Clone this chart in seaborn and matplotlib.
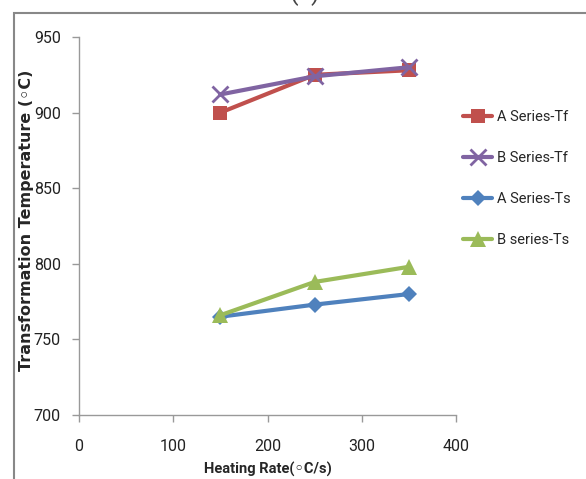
import matplotlib
matplotlib.use("Agg")
import matplotlib.pyplot as plt
from matplotlib import font_manager
from matplotlib.patches import Rectangle
import seaborn as sns
import pandas as pd

# Heating rates (°C/s) and measured transformation temperatures (°C)
heating_rate = [150, 250, 350]
a_series_tf = [900, 925, 928]
b_series_tf = [912, 924, 930]
a_series_ts = [765, 773, 780]
b_series_ts = [766, 788, 798]

series_names = ["A Series-Tf", "B Series-Tf", "A Series-Ts", "B series-Ts"]
series_values = [a_series_tf, b_series_tf, a_series_ts, b_series_ts]

x_ticks = [0, 100, 200, 300, 400]
y_ticks = [700, 750, 800, 850, 900, 950]

rows = []
for name, vals in zip(series_names, series_values):
    for x, y in zip(heating_rate, vals):
        rows.append({"rate": x, "temp": y, "series": name})
df = pd.DataFrame(rows)


def pick_family(candidates):
    for fam in candidates:
        try:
            font_manager.findfont(font_manager.FontProperties(family=fam),
                                  fallback_to_default=False)
            return fam
        except Exception:
            continue
    return "DejaVu Sans"


narrow = pick_family(["Liberation Sans Narrow", "Roboto", "Lato"])

sns.set_theme(style="white")
plt.rcParams["font.family"] = [narrow, "DejaVu Sans"]

palette = {
    "A Series-Tf": "#C0504D",
    "B Series-Tf": "#8064A2",
    "A Series-Ts": "#4F81BD",
    "B series-Ts": "#9BBB59",
}
markers = {
    "A Series-Tf": "s",
    "B Series-Tf": "x",
    "A Series-Ts": "D",
    "B series-Ts": "^",
}
msizes = {"A Series-Tf": 10, "B Series-Tf": 11, "A Series-Ts": 8, "B series-Ts": 11}

fig = plt.figure(figsize=(5.86, 4.79), dpi=100)
ax = fig.add_axes([79 / 586, 1 - 415 / 479, (456 - 79) / 586, (415 - 37) / 479])

for name in series_names:
    sub = df[df["series"] == name]
    sns.lineplot(
        data=sub, x="rate", y="temp", ax=ax, color=palette[name],
        marker=markers[name], markersize=msizes[name], linewidth=3,
        markeredgewidth=2 if markers[name] == "x" else 0,
        markeredgecolor=palette[name], label=name,
    )

ax.set_xlim(0, 400)
ax.set_ylim(700, 950)
ax.set_xticks(x_ticks)
ax.set_yticks(y_ticks)
ax.tick_params(axis="both", labelsize=11.5, labelcolor="#222222", length=5,
               width=1, direction="out", bottom=True, left=True,
               color="#999999")
ax.tick_params(axis="x", pad=12)
ax.tick_params(axis="y", pad=8)
for side in ["top", "right"]:
    ax.spines[side].set_visible(False)
for side in ["left", "bottom"]:
    ax.spines[side].set_color("#999999")
    ax.spines[side].set_linewidth(1)

ax.set_xlabel("Heating Rate(\u25e6C/s)", fontsize=10.5, fontweight="bold",
              va="top")
ax.xaxis.set_label_coords(0.5, (415 - 462) / 378)
ax.set_ylabel("Transformation Temperature (\u25e6C)", fontsize=11.5,
              fontweight="bold", family=["DejaVu Sans"])
ax.yaxis.set_label_coords((34 - 79) / 377, 0.515)

ax.legend(loc="upper left", bbox_to_anchor=(463 / 586, 1 - 110 / 479),
          bbox_transform=fig.transFigure, frameon=False, fontsize=10.5,
          handlelength=2.0, labelspacing=1.85, handletextpad=0.35,
          borderaxespad=0, borderpad=0)

# Outer chart frame
fig.patches.append(Rectangle((14 / 586, -0.05), 1.1, 1 - 13 / 479 + 0.05,
                             transform=fig.transFigure, fill=False,
                             edgecolor="#888888", linewidth=1.5))
fig.text(305 / 586, 1.0, "(a)", ha="center", va="baseline",
         fontsize=18, color="#444444")

fig.savefig("out.png", dpi=100)
